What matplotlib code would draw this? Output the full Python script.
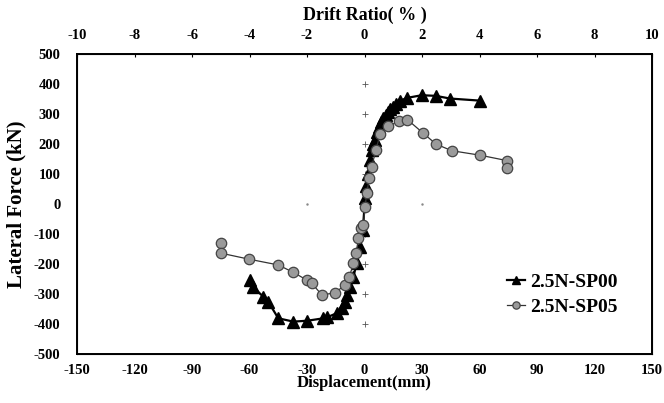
import matplotlib
matplotlib.use("Agg")
import matplotlib.pyplot as plt
import numpy as np

# Specimen 2.5N-SP00 envelope (displacement mm, lateral force kN)
sp00_disp = [-59.7, -58.3, -52.8, -50.2, -45.0, -37.1, -29.8, -21.5, -19.7, -14.5,
             -11.9, -10.2, -9.0, -7.6, -5.8, -4.1, -2.3, -0.9, 0.3, 1.0, 1.8,
             2.9, 3.7, 4.6, 5.5, 6.6, 7.7, 8.8, 9.8, 11.0, 12.4, 13.5, 14.7,
             16.5, 18.5, 22.0, 29.8, 37.1, 44.6, 60.3]
sp00_force = [-253, -276, -309, -326, -381, -392, -389, -381, -378, -364,
              -348, -326, -303, -276, -242, -198, -142, -87, 20, 60, 100,
              147, 180, 200, 213, 240, 258, 275, 286, 298, 308, 318, 324,
              335, 344, 354, 363, 361, 352, 345]

# Specimen 2.5N-SP05 envelope
sp05_disp = [-74.7, -74.7, -60.1, -45.0, -37.1, -30.2, -27.5, -22.3, -15.4, -10.2,
             -7.9, -5.8, -4.4, -3.2, -2.0, -0.6, 0.3, 1.1, 2.5, 3.7, 6.0,
             8.1, 12.4, 18.2, 22.3, 30.7, 37.3, 45.5, 60.3, 74.3, 74.3]
sp05_force = [-131, -164, -184, -203, -228, -253, -264, -303, -296, -270,
              -242, -198, -164, -114, -80, -70, -9, 36, 86, 124, 182,
              233, 260, 277, 282, 236, 200, 178, 163, 145, 120]

x_ticks = [-150, -120, -90, -60, -30, 0, 30, 60, 90, 120, 150]
y_ticks = [-500, -400, -300, -200, -100, 0, 100, 200, 300, 400, 500]
drift_ticks = [-10, -8, -6, -4, -2, 0, 2, 4, 6, 8, 10]

plt.rcParams['font.family'] = ['Liberation Serif', 'DejaVu Serif']
plt.rcParams['font.weight'] = 'bold'
plt.rcParams['axes.unicode_minus'] = False

fig = plt.figure(figsize=(6.64, 4.03), dpi=100)
ax = fig.add_axes([0.116, 0.1216, 0.866, 0.744])

# small cross-hair ticks along the zero axes
ax.plot(np.zeros(len(y_ticks) - 2), y_ticks[1:-1], '+', color='#555555',
        ms=4, mew=0.6, zorder=1)
ax.plot(x_ticks[4:7], np.zeros(3), '.', color='#888888',
        ms=1.5, zorder=1)

ax.plot(sp00_disp, sp00_force, '-', color='black', lw=1.6, marker='^',
        ms=8, mfc='black', mec='black', label='2.5N-SP00', zorder=3)
ax.plot(sp05_disp, sp05_force, '-', color='#333333', lw=0.9, marker='o',
        ms=7.5, mfc='#9a9a9a', mec='#444444', mew=0.9, label='2.5N-SP05',
        zorder=4)

ax.set_xlim(-150, 150)
ax.set_ylim(-500, 500)
ax.set_xticks(x_ticks)
ax.set_yticks(y_ticks)
ax.tick_params(axis='x', length=0, labelsize=10.5, pad=7)
ax.tick_params(axis='y', length=0, labelsize=10.5, pad=12)
for lab in ax.get_xticklabels() + ax.get_yticklabels():
    lab.set_fontweight('bold')
for sp in ax.spines.values():
    sp.set_linewidth(1.4)

ax.set_xlabel('Displacement(mm)', fontsize=12, fontweight='bold', labelpad=-1)
ax.set_ylabel('Lateral Force (kN)', fontsize=15, fontweight='bold', labelpad=5)

top = ax.twiny()
top.set_xlim(-10, 10)
top.set_xticks(drift_ticks)
top.tick_params(axis='x', length=2, direction='in', labelsize=10.5, pad=9)
for lab in top.get_xticklabels():
    lab.set_fontweight('bold')
top.set_xlabel('Drift Ratio( % )', fontsize=13, fontweight='bold', labelpad=6)

leg = ax.legend(loc='lower right', bbox_to_anchor=(0.97, 0.07), frameon=False,
                fontsize=14, handlelength=0.9, handletextpad=0.25,
                labelspacing=0.35, markerscale=0.7)
for t in leg.get_texts():
    t.set_fontweight('bold')

fig.savefig('out.png', dpi=100)
